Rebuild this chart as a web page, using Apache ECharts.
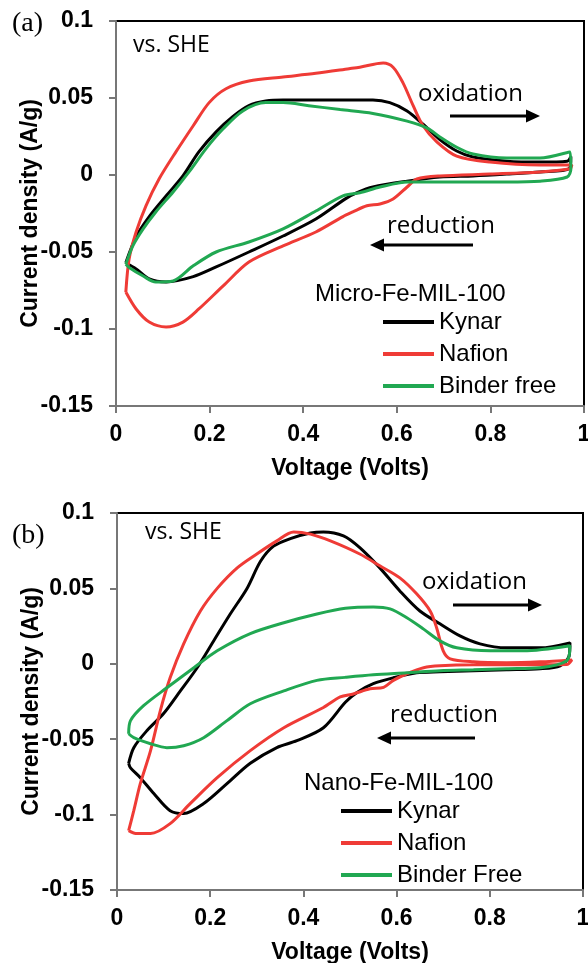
<!DOCTYPE html>
<html>
<head>
<meta charset="utf-8">
<script src="https://cdn.jsdelivr.net/npm/echarts@6/dist/echarts.min.js"></script>
<style>
  html, body { margin: 0; padding: 0; background: #fff; }
  #main { width: 588px; height: 963px; }
</style>
</head>
<body>
<div id="main"></div>
<script>
// axis ticks (V and A/g)
var xTicks = [0, 0.2, 0.4, 0.6, 0.8, 1];
var yTicks = [-0.15, -0.1, -0.05, 0, 0.05, 0.1];

var microNames = ['Kynar', 'Nafion', 'Binder free'];
var nanoNames = ['Kynar', 'Nafion', 'Binder Free'];
var colors = ['#000000', '#ef3b36', '#21a852'];

// (a) Micro-Fe-MIL-100, [voltage, current density], oxidation sweep then reduction sweep
var microKynar = [[0.021,-0.057],[0.043,-0.040],[0.071,-0.027],[0.107,-0.0136],[0.143,-0.0006],[0.177,0.015],[0.214,0.028],[0.250,0.038],[0.284,0.045],[0.320,0.048],[0.357,0.0487],[0.427,0.0487],[0.498,0.0487],[0.549,0.0487],[0.585,0.047],[0.622,0.0416],[0.656,0.033],[0.692,0.023],[0.728,0.0156],[0.763,0.0117],[0.835,0.009],[0.906,0.0084],[0.964,0.009],[0.972,0.012],[0.968,0.004],[0.906,0.002],[0.835,0.0006],[0.763,-0.0006],[0.692,-0.0013],[0.622,-0.004],[0.549,-0.0078],[0.515,-0.0115],[0.490,-0.0155],[0.427,-0.0286],[0.357,-0.0396],[0.284,-0.050],[0.214,-0.0597],[0.165,-0.066],[0.107,-0.0695],[0.071,-0.0675],[0.043,-0.061],[0.021,-0.057]];
var microNafion = [[0.021,-0.076],[0.028,-0.0545],[0.043,-0.037],[0.064,-0.020],[0.092,-0.0026],[0.128,0.015],[0.165,0.032],[0.199,0.047],[0.235,0.056],[0.284,0.061],[0.357,0.0636],[0.427,0.066],[0.498,0.069],[0.521,0.070],[0.571,0.0727],[0.592,0.070],[0.613,0.060],[0.635,0.045],[0.656,0.032],[0.686,0.0214],[0.728,0.0123],[0.799,0.0084],[0.906,0.0065],[0.974,0.0065],[0.970,0.004],[0.906,0.002],[0.799,0.0006],[0.692,-0.0006],[0.643,-0.0026],[0.622,-0.0078],[0.592,-0.0156],[0.564,-0.0188],[0.536,-0.020],[0.506,-0.024],[0.485,-0.027],[0.427,-0.037],[0.357,-0.046],[0.284,-0.0565],[0.229,-0.072],[0.177,-0.087],[0.143,-0.0955],[0.107,-0.0987],[0.071,-0.0955],[0.043,-0.087],[0.021,-0.076]];
var microBinder = [[0.021,-0.058],[0.036,-0.046],[0.058,-0.035],[0.085,-0.024],[0.122,-0.011],[0.156,0.002],[0.192,0.017],[0.229,0.030],[0.271,0.0416],[0.320,0.047],[0.357,0.047],[0.412,0.045],[0.479,0.0425],[0.549,0.040],[0.622,0.035],[0.665,0.0305],[0.692,0.0247],[0.728,0.018],[0.763,0.0136],[0.835,0.011],[0.906,0.011],[0.970,0.015],[0.972,0.004],[0.964,-0.0013],[0.906,-0.004],[0.835,-0.0045],[0.692,-0.0045],[0.622,-0.0045],[0.564,-0.0078],[0.521,-0.0115],[0.485,-0.0135],[0.427,-0.0234],[0.357,-0.035],[0.284,-0.0435],[0.214,-0.050],[0.165,-0.059],[0.122,-0.0688],[0.085,-0.0695],[0.058,-0.0656],[0.028,-0.060],[0.021,-0.058]];

// (b) Nano-Fe-MIL-100
var nanoKynar = [[0.025,-0.066],[0.036,-0.0556],[0.064,-0.0444],[0.100,-0.033],[0.136,-0.018],[0.172,-0.0026],[0.207,0.015],[0.243,0.033],[0.279,0.050],[0.308,0.068],[0.336,0.078],[0.372,0.083],[0.415,0.0867],[0.443,0.0874],[0.486,0.0848],[0.521,0.077],[0.564,0.0636],[0.607,0.0483],[0.650,0.035],[0.693,0.0265],[0.736,0.0185],[0.779,0.0132],[0.836,0.0106],[0.908,0.0106],[0.972,0.0139],[0.970,0.005],[0.951,-0.0013],[0.908,-0.0033],[0.836,-0.004],[0.765,-0.0046],[0.693,-0.0053],[0.643,-0.006],[0.593,-0.0093],[0.550,-0.0132],[0.515,-0.019],[0.490,-0.0255],[0.443,-0.0424],[0.386,-0.051],[0.343,-0.0556],[0.286,-0.066],[0.236,-0.0795],[0.186,-0.0927],[0.143,-0.0993],[0.114,-0.0974],[0.079,-0.086],[0.050,-0.0755],[0.029,-0.069],[0.025,-0.066]];
var nanoNafion = [[0.025,-0.1106],[0.036,-0.0974],[0.050,-0.0795],[0.072,-0.0576],[0.093,-0.031],[0.114,-0.0093],[0.143,0.0132],[0.179,0.035],[0.215,0.050],[0.258,0.0636],[0.300,0.0728],[0.343,0.0815],[0.379,0.0874],[0.415,0.086],[0.458,0.0815],[0.521,0.0728],[0.564,0.065],[0.607,0.057],[0.643,0.0464],[0.672,0.035],[0.686,0.0238],[0.700,0.0086],[0.715,0.0033],[0.765,0.0013],[0.836,0.0007],[0.908,0.0013],[0.976,0.0026],[0.965,-0.0005],[0.836,-0.0007],[0.765,-0.0007],[0.693,-0.0013],[0.658,-0.0026],[0.622,-0.0066],[0.593,-0.011],[0.572,-0.0156],[0.543,-0.0166],[0.507,-0.020],[0.479,-0.022],[0.443,-0.029],[0.358,-0.0424],[0.286,-0.0576],[0.215,-0.0755],[0.157,-0.0927],[0.114,-0.106],[0.072,-0.1126],[0.043,-0.1126],[0.025,-0.1106]];
var nanoBinder = [[0.025,-0.0464],[0.029,-0.0377],[0.057,-0.0278],[0.107,-0.0159],[0.165,-0.0026],[0.215,0.0086],[0.286,0.020],[0.358,0.0272],[0.429,0.033],[0.490,0.0368],[0.550,0.0377],[0.586,0.0364],[0.622,0.0305],[0.658,0.023],[0.693,0.0152],[0.729,0.0106],[0.801,0.0086],[0.872,0.0086],[0.972,0.012],[0.965,0.002],[0.908,-0.0026],[0.836,-0.0033],[0.765,-0.004],[0.693,-0.0046],[0.622,-0.006],[0.550,-0.0073],[0.490,-0.009],[0.429,-0.011],[0.358,-0.018],[0.286,-0.0265],[0.236,-0.0377],[0.186,-0.049],[0.143,-0.0543],[0.107,-0.0556],[0.072,-0.053],[0.036,-0.049],[0.025,-0.0464]];

var sans = 'Liberation Sans, Arial, sans-serif';
var note = 'Open Sans, sans-serif';
var axisGray = '#777777';

// keep tick labels short (0.05, -0.1 ...) instead of float noise
function tickText(v) {
  return String(+v.toFixed(2));
}

function xAxisFor(idx) {
  return {
    type: 'value', gridIndex: idx,
    min: xTicks[0], max: xTicks[xTicks.length - 1], interval: xTicks[1] - xTicks[0],
    name: 'Voltage (Volts)', nameLocation: 'middle', nameGap: 51, nameMoveOverlap: false,
    nameTextStyle: {fontFamily: sans, fontWeight: 'bold', fontSize: 23, color: '#000'},
    axisLine: {onZero: false, lineStyle: {color: axisGray, width: 2}},
    axisTick: {length: 7, lineStyle: {color: axisGray, width: 2}},
    axisLabel: {margin: 17, fontFamily: sans, fontWeight: 'bold', fontSize: 23, color: '#000', formatter: tickText},
    splitLine: {show: false}
  };
}

function yAxisFor(idx) {
  return {
    type: 'value', gridIndex: idx,
    min: yTicks[0], max: yTicks[yTicks.length - 1], interval: yTicks[1] - yTicks[0],
    name: 'Current density (A/g)', nameLocation: 'middle', nameGap: 74, nameMoveOverlap: false,
    nameTextStyle: {fontFamily: sans, fontWeight: 'bold', fontSize: 23, color: '#000'},
    axisLine: {onZero: false, lineStyle: {color: axisGray, width: 2}},
    axisTick: {length: 7, lineStyle: {color: axisGray, width: 2}},
    axisLabel: {margin: 23, fontFamily: sans, fontWeight: 'bold', fontSize: 23, color: '#000', formatter: tickText},
    splitLine: {show: false}
  };
}

function cvSeries(name, data, color, idx) {
  return {
    name: name, type: 'line', xAxisIndex: idx, yAxisIndex: idx,
    data: data, showSymbol: false, smooth: 0.3,
    lineStyle: {color: color, width: 3}, itemStyle: {color: color},
    emphasis: {disabled: true}
  };
}

function legendFor(names, left, top) {
  return {
    data: names, orient: 'vertical', left: left, top: top, padding: 0,
    icon: 'rect', itemWidth: 51, itemHeight: 4, itemGap: 8,
    selectedMode: false,
    textStyle: {fontFamily: sans, fontSize: 24, color: '#000'}
  };
}

function label(text, x, y, font, size) {
  return {type: 'text', x: x, y: y, style: {text: text, fontFamily: font, fontSize: size, fill: '#000', verticalAlign: 'middle'}};
}

// horizontal arrow from x1 to x2 (head at x2)
function arrow(x1, x2, y) {
  var dir = x2 > x1 ? 1 : -1;
  return {
    type: 'group', children: [
      {type: 'line', shape: {x1: x1, y1: y, x2: x2 - dir * 10, y2: y}, style: {stroke: '#000', lineWidth: 3}},
      {type: 'polygon', shape: {points: [[x2, y], [x2 - dir * 14, y - 6.5], [x2 - dir * 14, y + 6.5]]}, style: {fill: '#000'}}
    ]
  };
}

var chart = echarts.init(document.getElementById('main'));

var gridBase = {show: true, borderColor: '#000', borderWidth: 2, containLabel: false, outerBoundsMode: 'none'};

var option = {
  animation: false,
  backgroundColor: '#fff',
  grid: [
    Object.assign({left: 116, right: 4, top: 21, height: 385}, gridBase),
    Object.assign({left: 117, right: 5, top: 513, height: 377}, gridBase)
  ],
  xAxis: [xAxisFor(0), xAxisFor(1)],
  yAxis: [yAxisFor(0), yAxisFor(1)],
  legend: [legendFor(microNames, 383, 310), legendFor(nanoNames, 341, 799)],
  series: [
    cvSeries(microNames[0], microKynar, colors[0], 0),
    cvSeries(microNames[1], microNafion, colors[1], 0),
    cvSeries(microNames[2], microBinder, colors[2], 0),
    cvSeries(nanoNames[0], nanoKynar, colors[0], 1),
    cvSeries(nanoNames[1], nanoNafion, colors[1], 1),
    cvSeries(nanoNames[2], nanoBinder, colors[2], 1)
  ],
  graphic: [
    label('(a)', 12, 24, 'Liberation Serif, serif', 28),
    label('(b)', 12, 536, 'Liberation Serif, serif', 28),
    label('vs. SHE', 133, 45, note, 23),
    label('oxidation', 418, 94, note, 24),
    arrow(450, 540, 116),
    label('reduction', 387, 226, note, 24),
    arrow(473, 370, 245),
    label('Micro-Fe-MIL-100', 315, 294, sans, 24),
    label('vs. SHE', 145, 532, note, 23),
    label('oxidation', 422, 582, note, 24),
    arrow(453, 542, 605),
    label('reduction', 390, 715, note, 24),
    arrow(475, 377, 738),
    label('Nano-Fe-MIL-100', 304, 783, sans, 24)
  ]
};

chart.setOption(option);
</script>
</body>
</html>
